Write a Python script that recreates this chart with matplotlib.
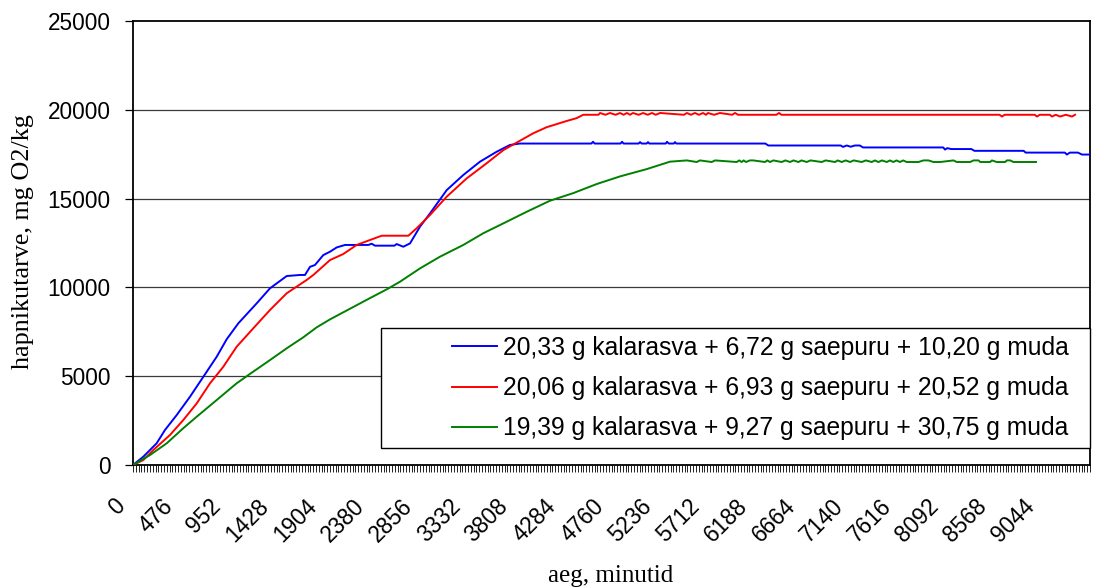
import matplotlib
matplotlib.use("Agg")
import matplotlib.pyplot as plt
from matplotlib.patches import Rectangle
from matplotlib.transforms import ScaledTranslation
import numpy as np

# ---------------- data ----------------
blue_t = [0, 103, 235, 318, 435, 567, 700, 833, 932, 1048, 1230, 1363, 1529, 1661, 1711, 1761,
          1810, 1893, 1960, 2026, 2109, 2341, 2374, 2407, 2600, 2623, 2689, 2756, 2855, 2955,
          3121, 3286, 3452, 3618, 3750, 3850, 4560, 4576, 4592, 4850, 4865, 4880, 5030, 5044,
          5060, 5110, 5123, 5136, 5300, 5312, 5330, 5380, 5392, 5405, 6290, 6320, 7040, 7063,
          7100, 7140, 7180, 7230, 7262, 8060, 8078, 8100, 8140, 8340, 8370, 8860, 8880, 9270,
          9290, 9320, 9400, 9440, 9520]
blue_v = [0, 470, 1220, 1970, 2815, 3845, 4970, 6100, 7080, 7980, 9100, 9950, 10640, 10700,
          10700, 11160, 11260, 11820, 12010, 12250, 12390, 12390, 12460, 12350, 12350, 12440,
          12290, 12480, 13420, 14170, 15480, 16330, 17080, 17640, 18020, 18100, 18100, 18200,
          18100, 18100, 18200, 18100, 18100, 18180, 18100, 18100, 18180, 18100, 18100, 18200,
          18100, 18100, 18180, 18100, 18100, 17990, 17990, 17910, 17990, 17920, 17990, 17990,
          17880, 17880, 17760, 17840, 17790, 17790, 17690, 17690, 17590, 17590, 17480, 17590,
          17590, 17480, 17480]

red_t = [0, 103, 202, 368, 500, 634, 766, 898, 1031, 1197, 1363, 1529, 1728, 1794, 1960, 2092,
         2225, 2358, 2474, 2739, 2822, 2955, 3121, 3320, 3518, 3684, 3850, 3982, 4115, 4314,
         4413, 4479, 4630, 4646, 4700, 4745, 4800, 4845, 4880, 4914, 4944, 4974, 5030, 5074,
         5120, 5163, 5200, 5243, 5480, 5511, 5550, 5590, 5630, 5670, 5700, 5720, 5780, 5839,
         5960, 5989, 6020, 6400, 6427, 6450, 8620, 8645, 8670, 8970, 8993, 9020, 9120, 9142,
         9180, 9222, 9280, 9341, 9371]
red_v = [0, 280, 845, 1690, 2530, 3470, 4600, 5530, 6660, 7700, 8730, 9670, 10420, 10700,
         11540, 11880, 12390, 12670, 12910, 12910, 13330, 14080, 15110, 16140, 16990, 17730,
         18260, 18680, 19020, 19370, 19530, 19720, 19720, 19820, 19720, 19820, 19720, 19820,
         19720, 19820, 19720, 19820, 19720, 19820, 19720, 19820, 19720, 19820, 19720, 19820,
         19720, 19820, 19720, 19820, 19720, 19820, 19720, 19820, 19720, 19820, 19720, 19720,
         19820, 19720, 19720, 19620, 19720, 19720, 19620, 19720, 19720, 19620, 19720, 19620,
         19720, 19620, 19720]

green_t = [0, 169, 335, 500, 634, 833, 1031, 1164, 1363, 1529, 1694, 1827, 1960, 2325, 2524,
           2656, 2855, 3054, 3286, 3485, 3718, 3917, 4148, 4380, 4613, 4845, 5110, 5342, 5508,
           5608, 5640, 5757, 5790, 6006, 6030, 6055, 6075, 6098, 6137, 6170, 6287, 6310, 6337,
           6370, 6453, 6490, 6536, 6570, 6619, 6650, 6702, 6740, 6851, 6890, 6984, 7010, 7050,
           7090, 7133, 7170, 7249, 7290, 7349, 7380, 7415, 7450, 7498, 7530, 7564, 7595, 7630,
           7660, 7697, 7813, 7863, 7913, 7963, 8029, 8162, 8195, 8228, 8328, 8361, 8411, 8428,
           8527, 8544, 8593, 8676, 8693, 8726, 8759, 8983]
green_v = [0, 560, 1220, 2070, 2720, 3660, 4600, 5130, 5910, 6570, 7190, 7750, 8200, 9300,
           9890, 10320, 11070, 11730, 12390, 13050, 13700, 14260, 14880, 15310, 15820, 16250,
           16660, 17080, 17150, 17060, 17150, 17060, 17150, 17060, 17150, 17060, 17150, 17060,
           17150, 17150, 17060, 17150, 17060, 17150, 17060, 17150, 17060, 17150, 17060, 17150,
           17060, 17150, 17060, 17150, 17060, 17150, 17060, 17150, 17060, 17150, 17060, 17150,
           17060, 17150, 17060, 17150, 17060, 17150, 17060, 17150, 17060, 17150, 17060, 17060,
           17150, 17150, 17060, 17060, 17150, 17060, 17060, 17060, 17150, 17150, 17060, 17060,
           17150, 17060, 17060, 17150, 17150, 17060, 17060]

labels = ["20,33 g kalarasva + 6,72 g saepuru + 10,20 g muda",
          "20,06 g kalarasva + 6,93 g saepuru + 20,52 g muda",
          "19,39 g kalarasva + 9,27 g saepuru + 30,75 g muda"]
colors = ["#0000FF", "#FF0000", "#008000"]

x_label_ticks = [476 * i for i in range(20)]   # 0 ... 9044
x_minor_step = 28
x_max = 9520
y_ticks = [0, 5000, 10000, 15000, 20000, 25000]

# ---------------- figure ----------------
W, H = 1117, 588
fig = plt.figure(figsize=(W / 100, H / 100), dpi=100)
L, R, T, B = 133, 1090, 21, 465
ax = fig.add_axes([L / W, 1 - B / H, (R - L) / W, (B - T) / H])

sans = ["Liberation Sans", "DejaVu Sans"]
serif = ["Liberation Serif", "DejaVu Serif"]
fs_tick = 16.3
fs_leg = 17.7

for t, v, c, lab in zip([blue_t, red_t, green_t], [blue_v, red_v, green_v], colors, labels):
    ax.plot(t, v, color=c, lw=1.4, label=lab, zorder=3)

ax.set_xlim(0, x_max)
ax.set_ylim(0, 25000)

for y in y_ticks[1:-1]:
    ax.axhline(y, color="#3a3a3a", lw=0.9, zorder=1)

for s in ax.spines.values():
    s.set_linewidth(1.3)
    s.set_color("black")

ax.set_yticks(y_ticks)
ax.set_yticklabels([str(v) for v in y_ticks], fontfamily=sans, fontsize=fs_tick)
ax.tick_params(axis="y", direction="out", length=6, width=0.9, pad=10)

ax.set_xticks(x_label_ticks)
ax.set_xticklabels([str(v) for v in x_label_ticks], fontfamily=sans, fontsize=fs_tick,
                   rotation=45, ha="right", va="center", rotation_mode="anchor")
ax.set_xticks(np.arange(0, x_max + 1, x_minor_step), minor=True)
ax.tick_params(axis="x", which="both", direction="out", length=5, width=0.7, pad=22,
               color="#202020")
offset = ScaledTranslation(-8 / 72, 0, fig.dpi_scale_trans)
for lbl in ax.get_xticklabels():
    lbl.set_transform(lbl.get_transform() + offset)

fig.text(23 / W, 1 - 242 / H, "hapnikutarve, mg O2/kg", family=serif, fontsize=18.8,
         rotation=90, ha="center", va="center")
fig.text(611 / W, 1 - 576 / H, "aeg, minutid", family=serif, fontsize=18,
         ha="center", va="center")

# legend box
lx0, ly0, lx1, ly1 = 381, 328, 1090, 448
rect = Rectangle((lx0 / W, 1 - ly1 / H), (lx1 - lx0) / W, (ly1 - ly0) / H,
                 transform=fig.transFigure, facecolor="white", edgecolor="black",
                 lw=1.0, zorder=4, clip_on=False)
ax.add_patch(rect)

leg = ax.legend(loc="upper left", bbox_to_anchor=(452 / W, 1 - 336 / H),
                bbox_transform=fig.transFigure, frameon=False,
                prop={"family": sans, "size": fs_leg}, handlelength=1.82,
                handletextpad=0.25, labelspacing=0.66, borderpad=0, borderaxespad=0)
leg.set_zorder(6)
for ln in leg.get_lines():
    ln.set_linewidth(1.4)

fig.savefig("out.png", dpi=100)
